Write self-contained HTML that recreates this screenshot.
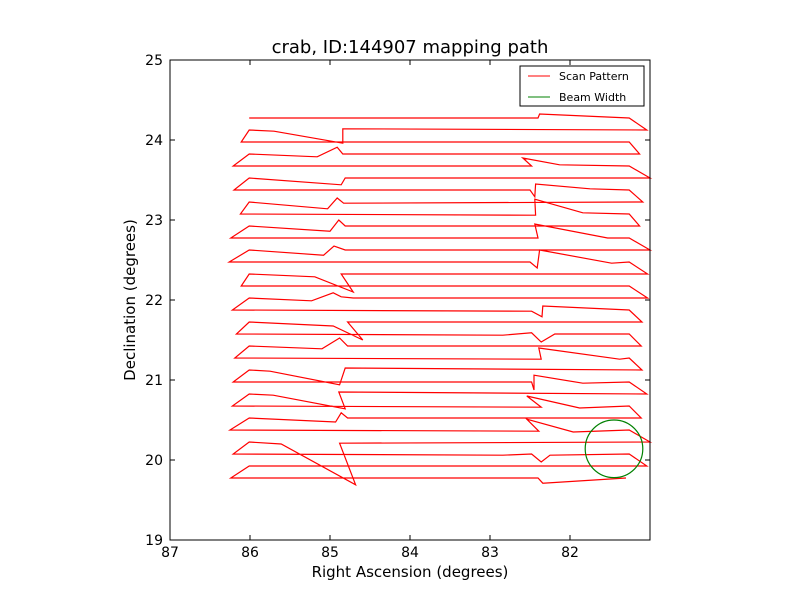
<!DOCTYPE html>
<html><head><meta charset="utf-8"><style>
body{margin:0;background:#fff}
svg text{font-family:"DejaVu Sans","Liberation Sans",sans-serif}
</style></head><body>
<svg id="chart" width="800" height="600" xmlns="http://www.w3.org/2000/svg">
<rect width="800" height="600" fill="#fff"/>
<text x="410" y="53" font-size="18" text-anchor="middle">crab, ID:144907 mapping path</text>
<g id="plot"></g>
<rect x="170" y="60" width="480" height="480" fill="none" stroke="#000" stroke-width="1"/>
<g id="ticks"></g>
<text x="410" y="577" font-size="15" text-anchor="middle">Right Ascension (degrees)</text>
<text transform="translate(135,300) rotate(-90)" font-size="15" text-anchor="middle">Declination (degrees)</text>
<g>
<rect x="520" y="66" width="124" height="40" fill="#fff" stroke="#000" stroke-width="1"/>
<line x1="528" y1="76" x2="550" y2="76" stroke="red" stroke-width="1"/>
<text x="559" y="80" font-size="11">Scan Pattern</text>
<line x1="528" y1="97" x2="550" y2="97" stroke="green" stroke-width="1"/>
<text x="559" y="101" font-size="11">Beam Width</text>
</g>
</svg>
<script>
const decRows=[24.275,24.125,23.975,23.825,23.675,23.525,23.375,23.225,23.075,22.925,22.775,22.625,22.475,22.325,22.175,22.025,21.875,21.725,21.575,21.425,21.275,21.125,20.975,20.825,20.675,20.525,20.375,20.225,20.075,19.925,19.775];
const raStart=[86.01,81.04,86.11,81.13,86.21,81.0,86.2,81.09,86.12,81.13,86.24,81.0,86.26,81.03,86.11,81.03,86.22,81.1,86.17,81.11,86.19,81.1,86.21,81.04,86.22,81.11,86.25,81.0,86.21,81.04,86.24];
const raEnd=[81.26,86.01,81.26,86.01,81.26,86.01,81.26,86.01,81.26,86.01,81.26,86.01,81.26,86.01,81.26,86.01,81.26,86.01,81.26,86.01,81.26,86.01,81.26,86.01,81.26,86.01,81.26,86.01,81.26,86.01,81.3];
const kinks=[
[[82.40,24.275],[82.38,24.325]],
[[84.84,24.14],[84.84,23.96],[85.70,24.11]],
[],
[[84.84,23.825],[84.91,23.91],[85.16,23.79]],
[[82.48,23.675],[82.59,23.775],[82.13,23.69]],
[[84.81,23.525],[84.86,23.44]],
[[82.50,23.375],[82.44,23.29],[82.43,23.45],[81.75,23.39]],
[[84.83,23.21],[84.91,23.275],[85.03,23.14]],
[[82.50,23.06],[82.43,23.06],[82.44,23.26],[81.84,23.09]],
[[84.81,22.925],[84.89,23.0],[85.0,22.86]],
[[82.40,22.775],[82.44,22.95],[81.53,22.775]],
[[84.81,22.625],[84.95,22.675],[85.08,22.56]],
[[82.50,22.475],[82.41,22.4],[82.38,22.625],[81.48,22.46]],
[[84.86,22.325],[84.71,22.1],[85.19,22.29]],
[],
[[84.71,22.025],[84.86,22.04],[84.96,22.09],[85.23,21.99]],
[[82.48,21.86],[82.35,21.79],[82.34,21.925]],
[[84.78,21.725],[84.59,21.5],[84.96,21.675]],
[[82.84,21.56],[82.48,21.59],[82.36,21.475],[82.19,21.575]],
[[84.78,21.425],[84.88,21.525],[85.10,21.39]],
[[82.36,21.26],[82.39,21.4],[81.38,21.26]],
[[84.81,21.15],[84.88,20.94],[85.75,21.11]],
[[82.48,20.975],[82.45,20.875],[82.45,21.06],[81.84,20.96]],
[[84.89,20.85],[84.81,20.64],[85.71,20.81]],
[[82.36,20.66],[82.54,20.8],[81.88,20.65]],
[[84.78,20.525],[84.86,20.59],[84.93,20.475]],
[[82.39,20.36],[82.54,20.51],[81.96,20.35]],
[[84.88,20.21],[84.68,19.69],[85.61,20.2]],
[[82.84,20.06],[82.48,20.075],[82.36,19.975],[82.25,20.06]],
[],
[[82.40,19.775],[82.34,19.71]]
];
const beamRA=81.45, beamDec=20.14, beamR=0.36;
const xTicks=[87,86,85,84,83,82,81];
const xTickLabels=["87","86","85","84","83","82",""];
const yTicks=[19,20,21,22,23,24,25];
const yTickLabels=["19","20","21","22","23","24","25"];
const X=ra=>170+(87-ra)*80, Y=d=>60+(25-d)*80;
const NS="http://www.w3.org/2000/svg";
const plot=document.getElementById('plot'), ticks=document.getElementById('ticks');
let pts=[];
for(let i=0;i<decRows.length;i++){
 pts.push([X(raStart[i]),Y(decRows[i])]);
 (kinks[i]||[]).forEach(k=>pts.push([X(k[0]),Y(k[1])]));
 pts.push([X(raEnd[i]),Y(decRows[i])]);
}
const pl=document.createElementNS(NS,'polyline');


pl.setAttribute('points',pts.map(p=>p.map(v=>v.toFixed(1)).join(',')).join(' '));
pl.setAttribute('fill','none');pl.setAttribute('stroke','red');pl.setAttribute('stroke-width','1.2');
plot.appendChild(pl);
const c=document.createElementNS(NS,'circle');


c.setAttribute('cx',X(beamRA));c.setAttribute('cy',Y(beamDec));c.setAttribute('r',beamR*80);
c.setAttribute('fill','none');c.setAttribute('stroke','green');c.setAttribute('stroke-width','1.2');
plot.appendChild(c);
xTicks.forEach((v,i)=>{const x=X(v);
 const l=document.createElementNS(NS,'path');
 
 
 l.setAttribute('d',`M${x},540v-5M${x},60v5`);l.setAttribute('stroke','#000');ticks.appendChild(l);
 const t=document.createElementNS(NS,'text');
 
 
 t.setAttribute('x',x);t.setAttribute('y',557);t.setAttribute('font-size','14');t.setAttribute('text-anchor','middle');
 t.textContent=xTickLabels[i];ticks.appendChild(t);});
yTicks.forEach((v,i)=>{const y=Y(v);
 const l=document.createElementNS(NS,'path');
 
 
 l.setAttribute('d',`M170,${y}h5M650,${y}h-5`);l.setAttribute('stroke','#000');ticks.appendChild(l);
 const t=document.createElementNS(NS,'text');
 
 
 t.setAttribute('x',163);t.setAttribute('y',y+5);t.setAttribute('font-size','14');t.setAttribute('text-anchor','end');
 t.textContent=yTickLabels[i];ticks.appendChild(t);});
</script>
</body></html>
